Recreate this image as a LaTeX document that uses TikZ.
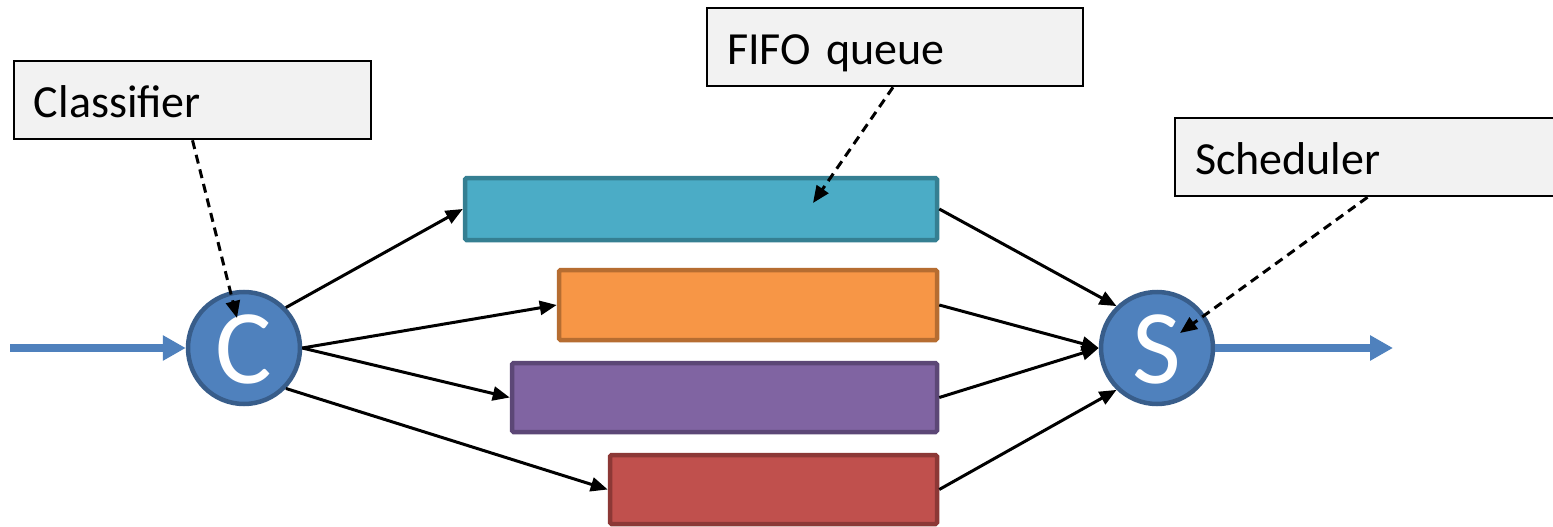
\documentclass[tikz,border=0pt]{standalone}
\usepackage{fontspec}
\setmainfont{Carlito}
\usetikzlibrary{arrows.meta}
\definecolor{lblfill}{HTML}{F2F2F2}
\definecolor{tealF}{HTML}{4BACC6}
\definecolor{tealD}{HTML}{357F92}
\definecolor{orgF}{HTML}{F79646}
\definecolor{orgD}{HTML}{B66D31}
\definecolor{purF}{HTML}{8064A2}
\definecolor{purD}{HTML}{5C4776}
\definecolor{redF}{HTML}{C0504D}
\definecolor{redD}{HTML}{8C3836}
\definecolor{bluF}{HTML}{4F81BD}
\definecolor{bluD}{HTML}{385D8A}
\tikzset{
  lbl/.style={draw=black, line width=2.5pt, fill=lblfill, minimum height=78pt,
    inner xsep=20pt, inner ysep=0pt, align=left, anchor=center,
    text height=35pt, text depth=0pt,
    font=\fontsize{46}{50}\selectfont},
  queue/.style={line width=4.5pt, rounded corners=1.5pt, inner sep=0pt, minimum height=#1},
  hub/.style={circle, draw=bluD, fill=bluF, line width=4.5pt, minimum size=112pt, inner sep=0pt,
    text=white, text height=71pt, text depth=0pt, font=\fontsize{106}{106}\selectfont},
  conn/.style={line width=3pt, -{Triangle[length=17pt,width=14pt]}},
  note/.style={conn, dash pattern=on 9pt off 6pt},
  flow/.style={draw=bluF, line width=8pt, -{Triangle[length=23pt,width=24pt]}}
}
\begin{document}
\begin{tikzpicture}[x=1pt,y=-1pt]
\clip (0,0) rectangle (1553,527);
\fill[white] (0,0) rectangle (1553,527);
% labels
\node[lbl, text width=317pt] (cls) at (192.5,100) {Classifier};
\node[lbl, text width=336pt] (fifo) at (895,47) {FIFO queue};
\node[lbl, text width=385pt] (sch) at (1387.5,157) {Scheduler};
% queues
\node[queue=62pt, draw=tealD, fill=tealF, minimum width=472pt] (q1) at (701,209) {};
\node[queue=70pt, draw=orgD, fill=orgF, minimum width=378pt] (q2) at (748,305) {};
\node[queue=69pt, draw=purD, fill=purF, minimum width=425pt] (q3) at (724.5,397.5) {};
\node[queue=69pt, draw=redD, fill=redF, minimum width=327pt] (q4) at (773.5,489.5) {};
% hubs
\node[hub] (C) at (244,348) {C};
\node[hub] (S) at (1157,348) {S};
% in/out
\coordinate (in) at (10,348);
\coordinate (out) at (1393,348);
\draw[flow] (in) -- (C.west);
\draw[flow] (S.east) -- (out);
% classifier to queues
\draw[conn] (C.44) -- (q1.west);
\draw[conn] (C.east) -- (q2.west);
\draw[conn] (C.east) -- (q3.west);
\draw[conn] (C.-44) -- (q4.west);
% queues to scheduler
\draw[conn] (q1.east) -- (S.134);
\draw[conn] (q2.east) -- (S.west);
\draw[conn] (q3.east) -- (S.west);
\draw[conn] (q4.east) -- (S.226);
% notes
\coordinate (cTip) at (237,318);
\coordinate (fTip) at (813,203);
\coordinate (sTip) at (1180,333);
\draw[note] (cls.south) -- (cTip);
\draw[note] ([xshift=-2pt]fifo.south) -- (fTip);
\draw[note] ([xshift=-20pt]sch.south) -- (sTip);
\end{tikzpicture}
\end{document}
